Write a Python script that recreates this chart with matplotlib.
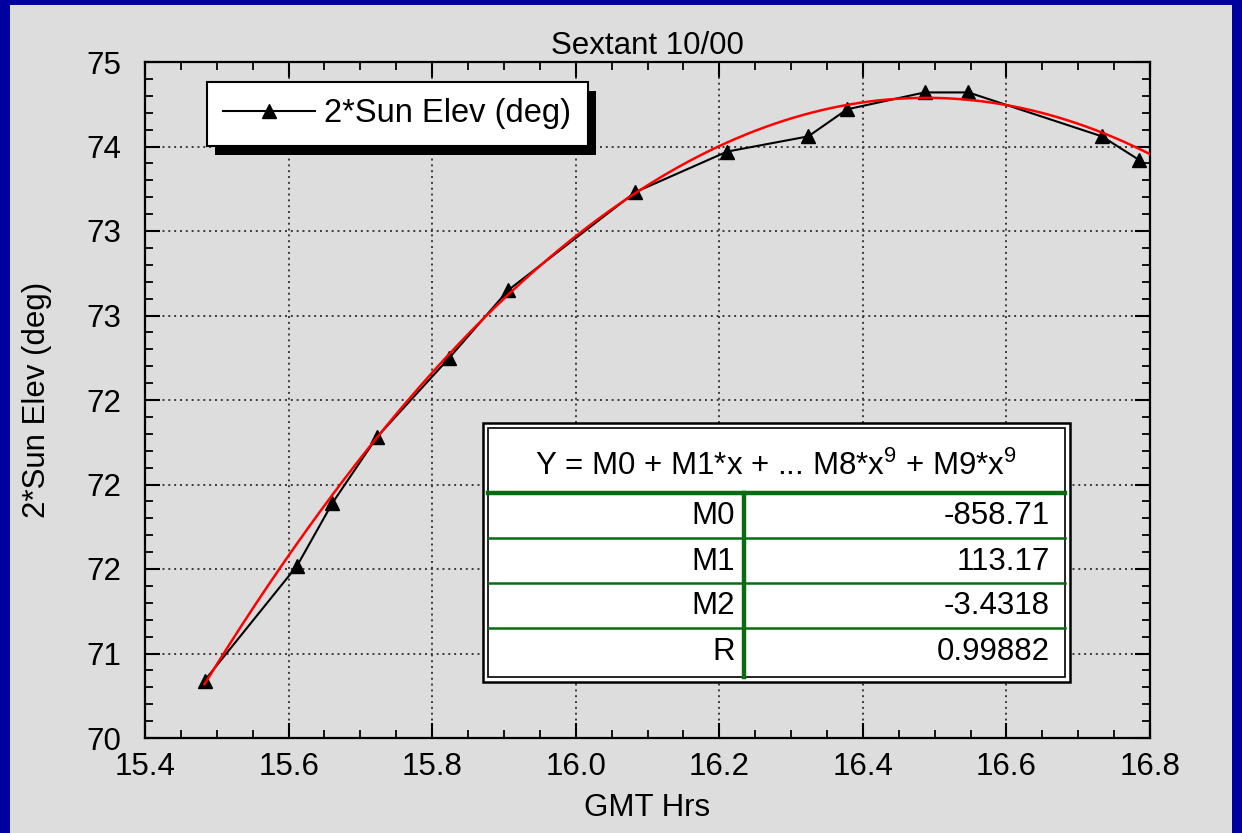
import numpy as np
import matplotlib
matplotlib.use("Agg")
import matplotlib.pyplot as plt
from matplotlib.patches import Rectangle
from matplotlib.lines import Line2D
from matplotlib.transforms import IdentityTransform

# ---------------- data ----------------
gmt_hrs = [15.483, 15.612, 15.661, 15.723, 15.824, 15.906, 16.083,
           16.211, 16.324, 16.378, 16.486, 16.547, 16.733, 16.785]
sun_elev2 = [70.84, 71.52, 71.89, 72.28, 72.75, 73.15, 73.73,
             73.97, 74.06, 74.22, 74.32, 74.32, 74.06, 73.92]

fit_names = ["M0", "M1", "M2", "R"]
fit_texts = ["-858.71", "113.17", "-3.4318", "0.99882"]
fit_coefs = [-858.71, 113.17, -3.4318]

x_ticks = [15.4, 15.6, 15.8, 16.0, 16.2, 16.4, 16.6, 16.8]
x_tick_labels = ["15.4", "15.6", "15.8", "16.0", "16.2", "16.4", "16.6", "16.8"]
y_ticks = [70.5, 71.0, 71.5, 72.0, 72.5, 73.0, 73.5, 74.0, 74.5]
y_tick_labels = ["70", "71", "72", "72", "72", "73", "73", "74", "75"]

title = "Sextant 10/00"
x_label = "GMT Hrs"
y_label = "2*Sun Elev (deg)"
series_label = "2*Sun Elev (deg)"
table_header = r"Y = M0 + M1*x + ... M8*x$^{9}$ + M9*x$^{9}$"

# ---------------- style ----------------
W, H = 1242, 833
FONT = ["Liberation Sans", "DejaVu Sans"]
FS = 22.5
BG = "#dcdddc"
BLUE = "#0000a0"
GREEN = "#0b6b12"

plt.rcParams["font.family"] = FONT
plt.rcParams["mathtext.fontset"] = "custom"
plt.rcParams["mathtext.rm"] = "Liberation Sans"

fig = plt.figure(figsize=(W / 100, H / 100), dpi=100, facecolor=BLUE)

def fx(px):
    return px / W

def fy(py):
    return 1 - py / H

# gray panel inside blue border
fig.patches.append(Rectangle((fx(10), 0), fx(1232) - fx(10), fy(5),
                             transform=fig.transFigure, facecolor=BG,
                             edgecolor="none", zorder=-10))

ax_l, ax_r, ax_t, ax_b = 145, 1150, 62, 738
ax = fig.add_axes([fx(ax_l), fy(ax_b), fx(ax_r) - fx(ax_l), fy(ax_t) - fy(ax_b)])
ax.set_facecolor(BG)

ax.set_xlim(15.4, 16.8)
ax.set_ylim(70.5, 74.5)

ax.set_xticks(x_ticks)
ax.set_xticklabels(x_tick_labels, fontsize=FS)
ax.set_yticks(y_ticks)
ax.set_yticklabels(y_tick_labels, fontsize=FS)
ax.set_xticks(np.arange(15.4, 16.801, 0.05), minor=True)
ax.set_yticks(np.arange(70.5, 74.501, 0.1), minor=True)
ax.tick_params(which="major", direction="in", top=True, right=True,
               length=11, width=1.5, color="black")
ax.tick_params(which="minor", direction="in", top=True, right=True,
               length=6, width=1.3, color="black")
ax.tick_params(axis="x", which="major", pad=10)
ax.tick_params(axis="y", which="major", pad=17)
for s in ax.spines.values():
    s.set_linewidth(1.6)
    s.set_color("black")

ax.grid(True, which="major", color="#3a3a3a", linestyle=(0, (1, 2)),
        linewidth=1.4)
ax.set_axisbelow(True)

# fitted curve from the displayed coefficients
xf = np.linspace(gmt_hrs[0], 16.8, 300)
yf = fit_coefs[0] + fit_coefs[1] * xf + fit_coefs[2] * xf ** 2

ax.plot(gmt_hrs, sun_elev2, color="black", linewidth=1.5, marker="^",
        markersize=10, markerfacecolor="black", markeredgecolor="black",
        label=series_label, zorder=3, clip_on=False)
ax.plot(xf, yf, color="#ff0000", linewidth=1.8, zorder=4)

ax.set_title(title, fontsize=FS, pad=6)
ax.set_xlabel(x_label, fontsize=FS, labelpad=8)
ax.set_ylabel(y_label, fontsize=FS, labelpad=25)

# legend
leg = ax.legend(loc="upper left",
                bbox_to_anchor=((207 - ax_l) / (ax_r - ax_l), (ax_b - 82) / (ax_b - ax_t)),
                fontsize=23.5, frameon=True, fancybox=False, framealpha=1,
                edgecolor="black", facecolor="white", handlelength=2.8,
                borderpad=0.5, handletextpad=0.3, borderaxespad=0)
leg.get_frame().set_linewidth(1.5)
leg.set_zorder(10)

fig.canvas.draw()
bb = leg.get_window_extent()
shadow = Rectangle((bb.x0 + 8, bb.y0 - 9), bb.width, bb.height,
                   transform=IdentityTransform(), facecolor="black",
                   edgecolor="none", zorder=9, clip_on=False)
ax.add_artist(shadow)

# ---------------- table of fit coefficients ----------------
tx0, tx1, ty0, ty1 = 483, 1070, 423, 682
fig.patches.append(Rectangle((fx(tx0), fy(ty1)), fx(tx1) - fx(tx0), fy(ty0) - fy(ty1),
                             transform=fig.transFigure, facecolor="white",
                             edgecolor="black", linewidth=1.8, zorder=20))
ins = 5
fig.patches.append(Rectangle((fx(tx0 + ins), fy(ty1 - ins)),
                             fx(tx1 - ins) - fx(tx0 + ins),
                             fy(ty0 + ins) - fy(ty1 - ins),
                             transform=fig.transFigure, facecolor="white",
                             edgecolor="black", linewidth=1.2, zorder=21))
head_y = 493
row_h = 45
vx = 744
fig.add_artist(Line2D([fx(tx0 + ins), fx(tx1 - ins)], [fy(head_y), fy(head_y)],
                      color=GREEN, linewidth=3.2, zorder=22))
for i in range(1, len(fit_names)):
    yy = head_y + i * row_h
    fig.add_artist(Line2D([fx(tx0 + ins), fx(tx1 - ins)], [fy(yy), fy(yy)],
                          color=GREEN, linewidth=1.8, zorder=22))
fig.add_artist(Line2D([fx(vx), fx(vx)], [fy(head_y), fy(ty1 - ins)],
                      color=GREEN, linewidth=3.2, zorder=22))

fig.text(fx(776), fy(466), table_header, fontsize=FS, ha="center", va="center",
         zorder=23)
for i, (nm, val) in enumerate(zip(fit_names, fit_texts)):
    yc = head_y + (i + 0.5) * row_h + 1
    fig.text(fx(735), fy(yc), nm, fontsize=FS, ha="right", va="center", zorder=23)
    fig.text(fx(1050), fy(yc), val, fontsize=FS, ha="right", va="center", zorder=23)

fig.savefig("out.png", dpi=100, facecolor=BLUE)
